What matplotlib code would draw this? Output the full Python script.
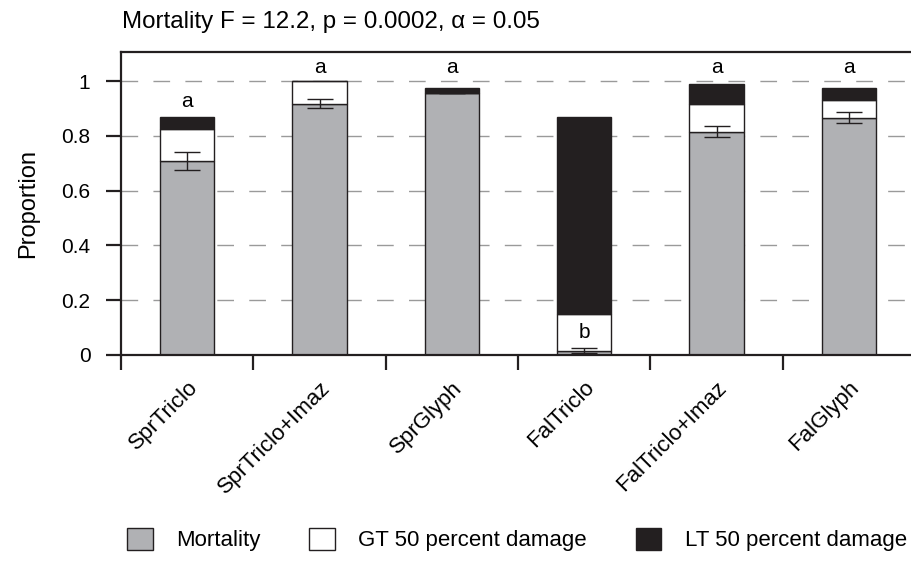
import matplotlib.pyplot as plt
import numpy as np
from matplotlib.patches import Patch

plt.rcParams['font.family'] = ['Liberation Sans', 'DejaVu Sans']

treatments = ["SprTriclo", "SprTriclo+Imaz", "SprGlyph", "FalTriclo", "FalTriclo+Imaz", "FalGlyph"]
mortality = [0.708, 0.918, 0.958, 0.015, 0.815, 0.866]
mortality_err = [0.033, 0.018, 0.0, 0.009, 0.020, 0.020]
gt50 = [0.116, 0.082, 0.0, 0.136, 0.103, 0.064]
lt50 = [0.045, 0.0, 0.016, 0.718, 0.071, 0.043]
letters = ["a", "a", "a", "b", "a", "a"]
letter_y = [0.925, 1.051, 1.051, 0.082, 1.051, 1.051]

gray = "#b0b1b4"
black = "#231f20"

fig = plt.figure(figsize=(9.12, 5.66), dpi=100)
ax = fig.add_axes([0.1327, 0.373, 0.8706, 0.535])

x = np.arange(len(treatments))
w = 0.41
mort = np.array(mortality)
gt = np.array(gt50)
lt = np.array(lt50)

ax.bar(x, mort, w, color=gray, edgecolor=black, linewidth=1, zorder=2)
ax.bar(x, gt, w, bottom=mort, color="white", edgecolor=black, linewidth=1, zorder=2)
ax.bar(x, lt, w, bottom=mort + gt, color=black, edgecolor=black, linewidth=1, zorder=2)
ax.errorbar(x, mort, yerr=mortality_err, fmt="none", ecolor=black, elinewidth=1,
            capsize=9.7, capthick=1, zorder=3)

for xi, lab, ly in zip(x, letters, letter_y):
    ax.text(xi, ly, lab, ha="center", va="center", fontsize=15, zorder=4)

ax.set_xlim(-0.5, 5.5)
ax.set_ylim(0, 1.106)
ax.set_yticks([0, 0.2, 0.4, 0.6, 0.8, 1.0])
ax.set_yticklabels(["0", "0.2", "0.4", "0.6", "0.8", "1"], fontsize=15)
for yv in [0.2, 0.4, 0.6, 0.8, 1.0]:
    ax.axhline(yv, color="#9a9a9a", linewidth=1, dashes=(12, 11), zorder=1)

# ticks on category boundaries, labels at centres
ax.set_xticks(np.arange(-0.5, 6.0, 1.0))
ax.set_xticklabels([])
ax.set_xticks(x, minor=True)
ax.set_xticklabels(treatments, minor=True, rotation=45, ha="right", rotation_mode="anchor",
                   fontsize=16)
ax.tick_params(axis="x", which="minor", length=0, pad=16)
ax.tick_params(axis="both", which="major", direction="out", length=11, width=1.6, color=black)
ax.tick_params(axis="y", pad=11)

for s in ax.spines.values():
    s.set_color(black)
    s.set_linewidth(1.6)

ax.set_ylabel("Proportion", fontsize=17, labelpad=16)

fig.text(0.134, 0.962, "Mortality F = 12.2, p = 0.0002, \u03b1 = 0.05", fontsize=17.4, va="center")

handles = [Patch(facecolor=gray, edgecolor=black, label="Mortality"),
           Patch(facecolor="white", edgecolor=black, label="GT 50 percent damage"),
           Patch(facecolor=black, edgecolor=black, label="LT 50 percent damage")]
fig.legend(handles=handles, loc="center", bbox_to_anchor=(0.567, 0.047), ncol=3, frameon=False,
           handlelength=1.15, handleheight=1.15, columnspacing=2.2, handletextpad=1.05,
           fontsize=16)

fig.savefig("out.png", dpi=100)
